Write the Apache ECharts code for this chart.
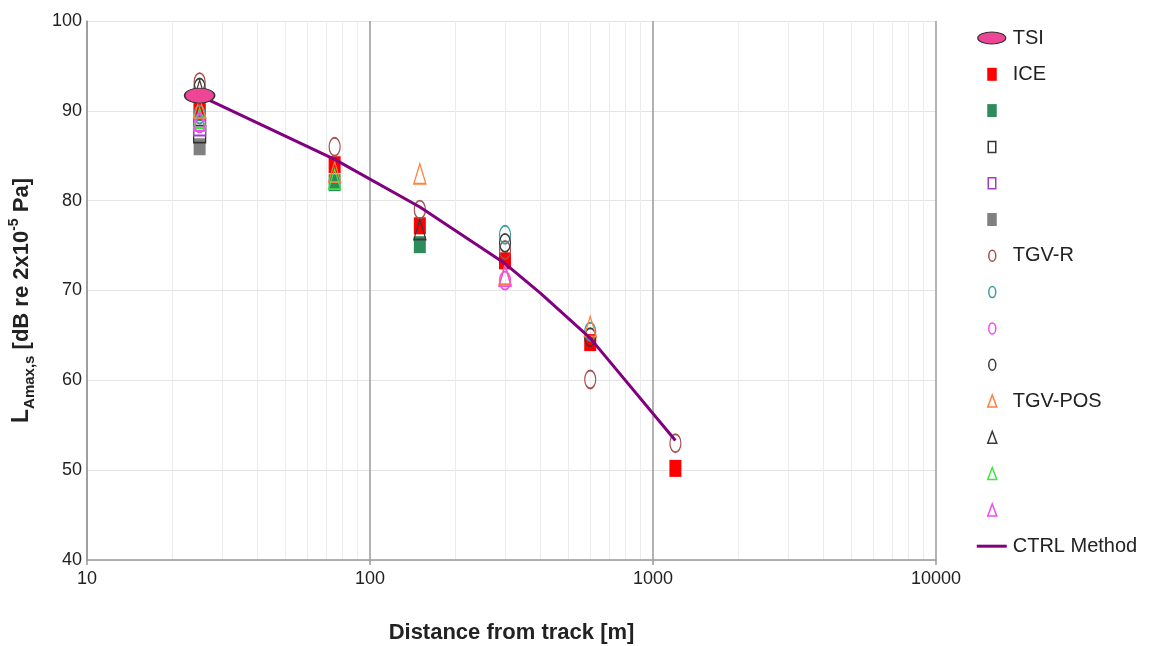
<!DOCTYPE html>
<html><head><meta charset="utf-8">
<script src="https://cdn.jsdelivr.net/npm/echarts@6/dist/echarts.min.js"></script>
<style>html,body{margin:0;padding:0;background:#fff}#c{width:1156px;height:646px}</style>
</head><body><div id="c"></div>
<script>
// ---- data ----
const distances = [25, 75, 150, 300, 600, 1200];
const tsi      = [91.7, null, null, null, null, null];
const ice      = [90.6, 84.0, 77.2, 73.3, 64.2, 50.2];
const iceGreen = [89.8, 82.0, 75.1, null, null, null];
const iceBlack = [87.4, null, null, null, null, null];
const icePurple= [88.2, null, null, null, null, null];
const iceGray  = [86.0, null, null, null, null, null];
const tgvR     = [93.2, 86.0, 79.0, 74.5, 60.1, 53.0];
const tgvRTeal = [89.6, null, null, 76.2, 65.4, null];
const tgvRMag  = [88.6, null, null, 71.1, null, null];
const tgvRBlack= [92.6, null, null, 75.3, 64.8, null];
const tgvPos   = [90.3, 83.2, 83.0, 71.8, 66.0, null];
const tgvPosBlack = [92.3, null, 76.8, null, null, null];
const tgvPosGreen = [89.2, 82.4, null, null, null, null];
const tgvPosMag   = [88.9, null, null, 71.6, null, null];
const ctrlDistances = [25, 75, 150, 300, 400, 600, 1200];
const ctrlValues    = [91.7, 84.6, 79.3, 73.0, 69.7, 64.7, 53.3];
const xTicks = [10, 100, 1000, 10000];
const minorTicks = [20,30,40,50,60,70,80,90,200,300,400,500,600,700,800,900,2000,3000,4000,5000,6000,7000,8000,9000];
const legendNames  = ['TSI','ICE','ICE 2','ICE 3','ICE 4','ICE 5','TGV-R','TGV-R 2','TGV-R 3','TGV-R 4','TGV-POS','TGV-POS 2','TGV-POS 3','TGV-POS 4','CTRL Method'];
const legendLabels = ['TSI','ICE',' ',' ',' ',' ','TGV-R',' ',' ',' ','TGV-POS',' ',' ',' ','CTRL Method'];

// ---- symbols ----
const ELL = 'path://M0,-1A1,1 0 1 1 0,1A1,1 0 1 1 0,-1Z';
const RECT = 'path://M-1,-1L1,-1L1,1L-1,1Z';
const TRI = 'path://M0,-1L1,1L-1,1Z';
const PAD = 'M0,0M30,14';
const L_TSI = 'path://' + PAD + 'M1,7A14,6 0 1 1 29,7A14,6 0 1 1 1,7Z';
const L_RECT = 'path://' + PAD + 'M10.5,0.5L20,0.5L20,13.5L10.5,13.5Z';
const L_ERECT = 'path://' + PAD + 'M11.5,1.5L19,1.5L19,12.5L11.5,12.5Z';
const L_ELL = 'path://' + PAD + 'M15.5,1.5A3.5,5.5 0 1 1 15.5,12.5A3.5,5.5 0 1 1 15.5,1.5Z';
const L_TRI = 'path://' + PAD + 'M15.5,1L20,13L11,13Z';
const L_LINE = 'path://' + PAD + 'M0,5.5L30,5.5L30,8.5L0,8.5Z';
const NONE = 'rgba(0,0,0,0)';

function pts(vals){
  const out = [];
  distances.forEach((d,i)=>{ if (vals[i] != null) out.push([d, vals[i]]); });
  return out;
}
function sc(name, vals, symbol, size, fill, stroke, bw, z){
  return {
    name, type:'scatter', data: pts(vals), symbol, symbolSize: size, z: z||2,
    itemStyle:{color: fill, borderColor: stroke, borderWidth: bw, opacity:1},
    emphasis:{disabled:true}, silent:true
  };
}
const SQ=[12,17], EL=[11,18], TR=[12,20];
const spec = [
  // name, vals, symbol, size, fill, stroke, bw, legendIcon, z
  ['TSI', tsi, ELL, [30,15], '#ee4596', '#333', 1.2, L_TSI, 5],
  ['ICE', ice, RECT, SQ, '#ff0000', NONE, 0, L_RECT, 2],
  ['ICE 2', iceGreen, RECT, SQ, '#2e8b5c', NONE, 0, L_RECT, 1],
  ['ICE 3', iceBlack, RECT, SQ, NONE, '#333', 1.5, L_ERECT, 2],
  ['ICE 4', icePurple, RECT, SQ, NONE, '#a13fc4', 1.5, L_ERECT, 2],
  ['ICE 5', iceGray, RECT, SQ, '#808080', NONE, 0, L_RECT, 1],
  ['TGV-R', tgvR, ELL, EL, NONE, '#a8504f', 1.5, L_ELL, 3],
  ['TGV-R 2', tgvRTeal, ELL, EL, NONE, '#3a9e9e', 1.5, L_ELL, 3],
  ['TGV-R 3', tgvRMag, ELL, EL, NONE, '#f04cf0', 1.5, L_ELL, 3],
  ['TGV-R 4', tgvRBlack, ELL, EL, NONE, '#3a3a3a', 1.5, L_ELL, 3],
  ['TGV-POS', tgvPos, TRI, TR, NONE, '#ff8040', 1.5, L_TRI, 3],
  ['TGV-POS 2', tgvPosBlack, TRI, TR, NONE, '#3a3a3a', 1.5, L_TRI, 3],
  ['TGV-POS 3', tgvPosGreen, TRI, TR, NONE, '#3ee83e', 1.5, L_TRI, 3],
  ['TGV-POS 4', tgvPosMag, TRI, TR, NONE, '#f04cf0', 1.5, L_TRI, 3]
];
const series = spec.map(s => sc(s[0], s[1], s[2], s[3], s[4], s[5], s[6], s[8]));
series.push({
  name:'CTRL Method', type:'line', data: ctrlDistances.map((d,i)=>[d, ctrlValues[i]]),
  showSymbol:false, symbol:'none', z:4, silent:true,
  lineStyle:{color:'#800080', width:3}, itemStyle:{color:'#800080'}
});
series.push({
  name:'minor', type:'scatter', data: [], z:0, silent:true,
  markLine:{silent:true, z:0, symbol:['none','none'], label:{show:false}, animation:false,
    lineStyle:{color:'#ececec', type:'solid', width:1},
    data: minorTicks.map(v=>({xAxis:v}))}
});
const legendData = spec.map(s => ({
  name: s[0], icon: s[7],
  itemStyle: {color: s[4], borderColor: s[0]==='TSI' ? '#333' : s[5], borderWidth: s[6]}
}));
legendData.push({name:'CTRL Method', icon: L_LINE, itemStyle:{color:'#800080', borderWidth:0}});
const labelMap = {}; legendNames.forEach((n,i)=>labelMap[n]=legendLabels[i]);

const FONT = "'Liberation Sans', Arial, sans-serif";
const chart = echarts.init(document.getElementById('c'), null, {renderer:'canvas'});
chart.setOption({
  animation:false,
  backgroundColor:'#fff',
  textStyle:{fontFamily: FONT},
  grid:{left:87, right:220, top:21, bottom:86, outerBoundsMode:'none', containLabel:false},
  legend:{
    orient:'vertical', left:971, top:23, padding:5, itemWidth:30, itemHeight:14, itemGap:16.3,
    selectedMode:false, data: legendData,
    formatter: n => labelMap[n],
    textStyle:{fontSize:20, color:'#222', fontFamily: FONT, lineHeight:14, padding:[0,0,0,1]}
  },
  xAxis:{
    type:'log', logBase:10, min:10, max:10000,
    name:'Distance from track [m]', nameLocation:'middle', nameGap:62,
    nameTextStyle:{fontSize:22, fontWeight:'bold', color:'#222', fontFamily: FONT},
    axisLine:{show:true, lineStyle:{color:'#999', width:1.5}},
    axisTick:{show:true, length:5, lineStyle:{color:'#999', width:1.5}},
    axisLabel:{fontSize:18, color:'#222', margin:10, fontFamily: FONT, formatter: v => String(Math.round(v))},
    splitLine:{show:true, lineStyle:{color:'#9a9a9a', width:1.5}},
    minorTick:{show:false}, minorSplitLine:{show:false}
  },
  yAxis:{
    type:'value', min:40, max:100, interval:10,
    name:'{L|L}{sub|Amax,s}{n| [dB re 2x10}{sup|-5}{n| Pa]}',
    nameLocation:'middle', nameGap:50,
    nameTextStyle:{
      fontFamily: FONT, color:'#222', fontWeight:'bold', fontSize:22, padding:[0,20,0,0],
      rich:{
        L:{fontSize:23, fontWeight:'bold', color:'#222', fontFamily: FONT, lineHeight:30, verticalAlign:'middle'},
        sub:{fontSize:15, fontWeight:'bold', color:'#222', fontFamily: FONT, lineHeight:30, verticalAlign:'bottom', padding:[9,0,0,0]},
        n:{fontSize:22, fontWeight:'bold', color:'#222', fontFamily: FONT, lineHeight:30, verticalAlign:'middle'},
        sup:{fontSize:14, fontWeight:'bold', color:'#222', fontFamily: FONT, lineHeight:30, verticalAlign:'top', padding:[0,0,7,0]}
      }
    },
    axisLine:{show:true, lineStyle:{color:'#999', width:1.5}},
    axisTick:{show:false},
    axisLabel:{fontSize:18, color:'#222', margin:5, fontFamily: FONT},
    splitLine:{show:true, lineStyle:{color:'#e4e4e4', width:1}}
  },
  series
});
</script></body></html>
